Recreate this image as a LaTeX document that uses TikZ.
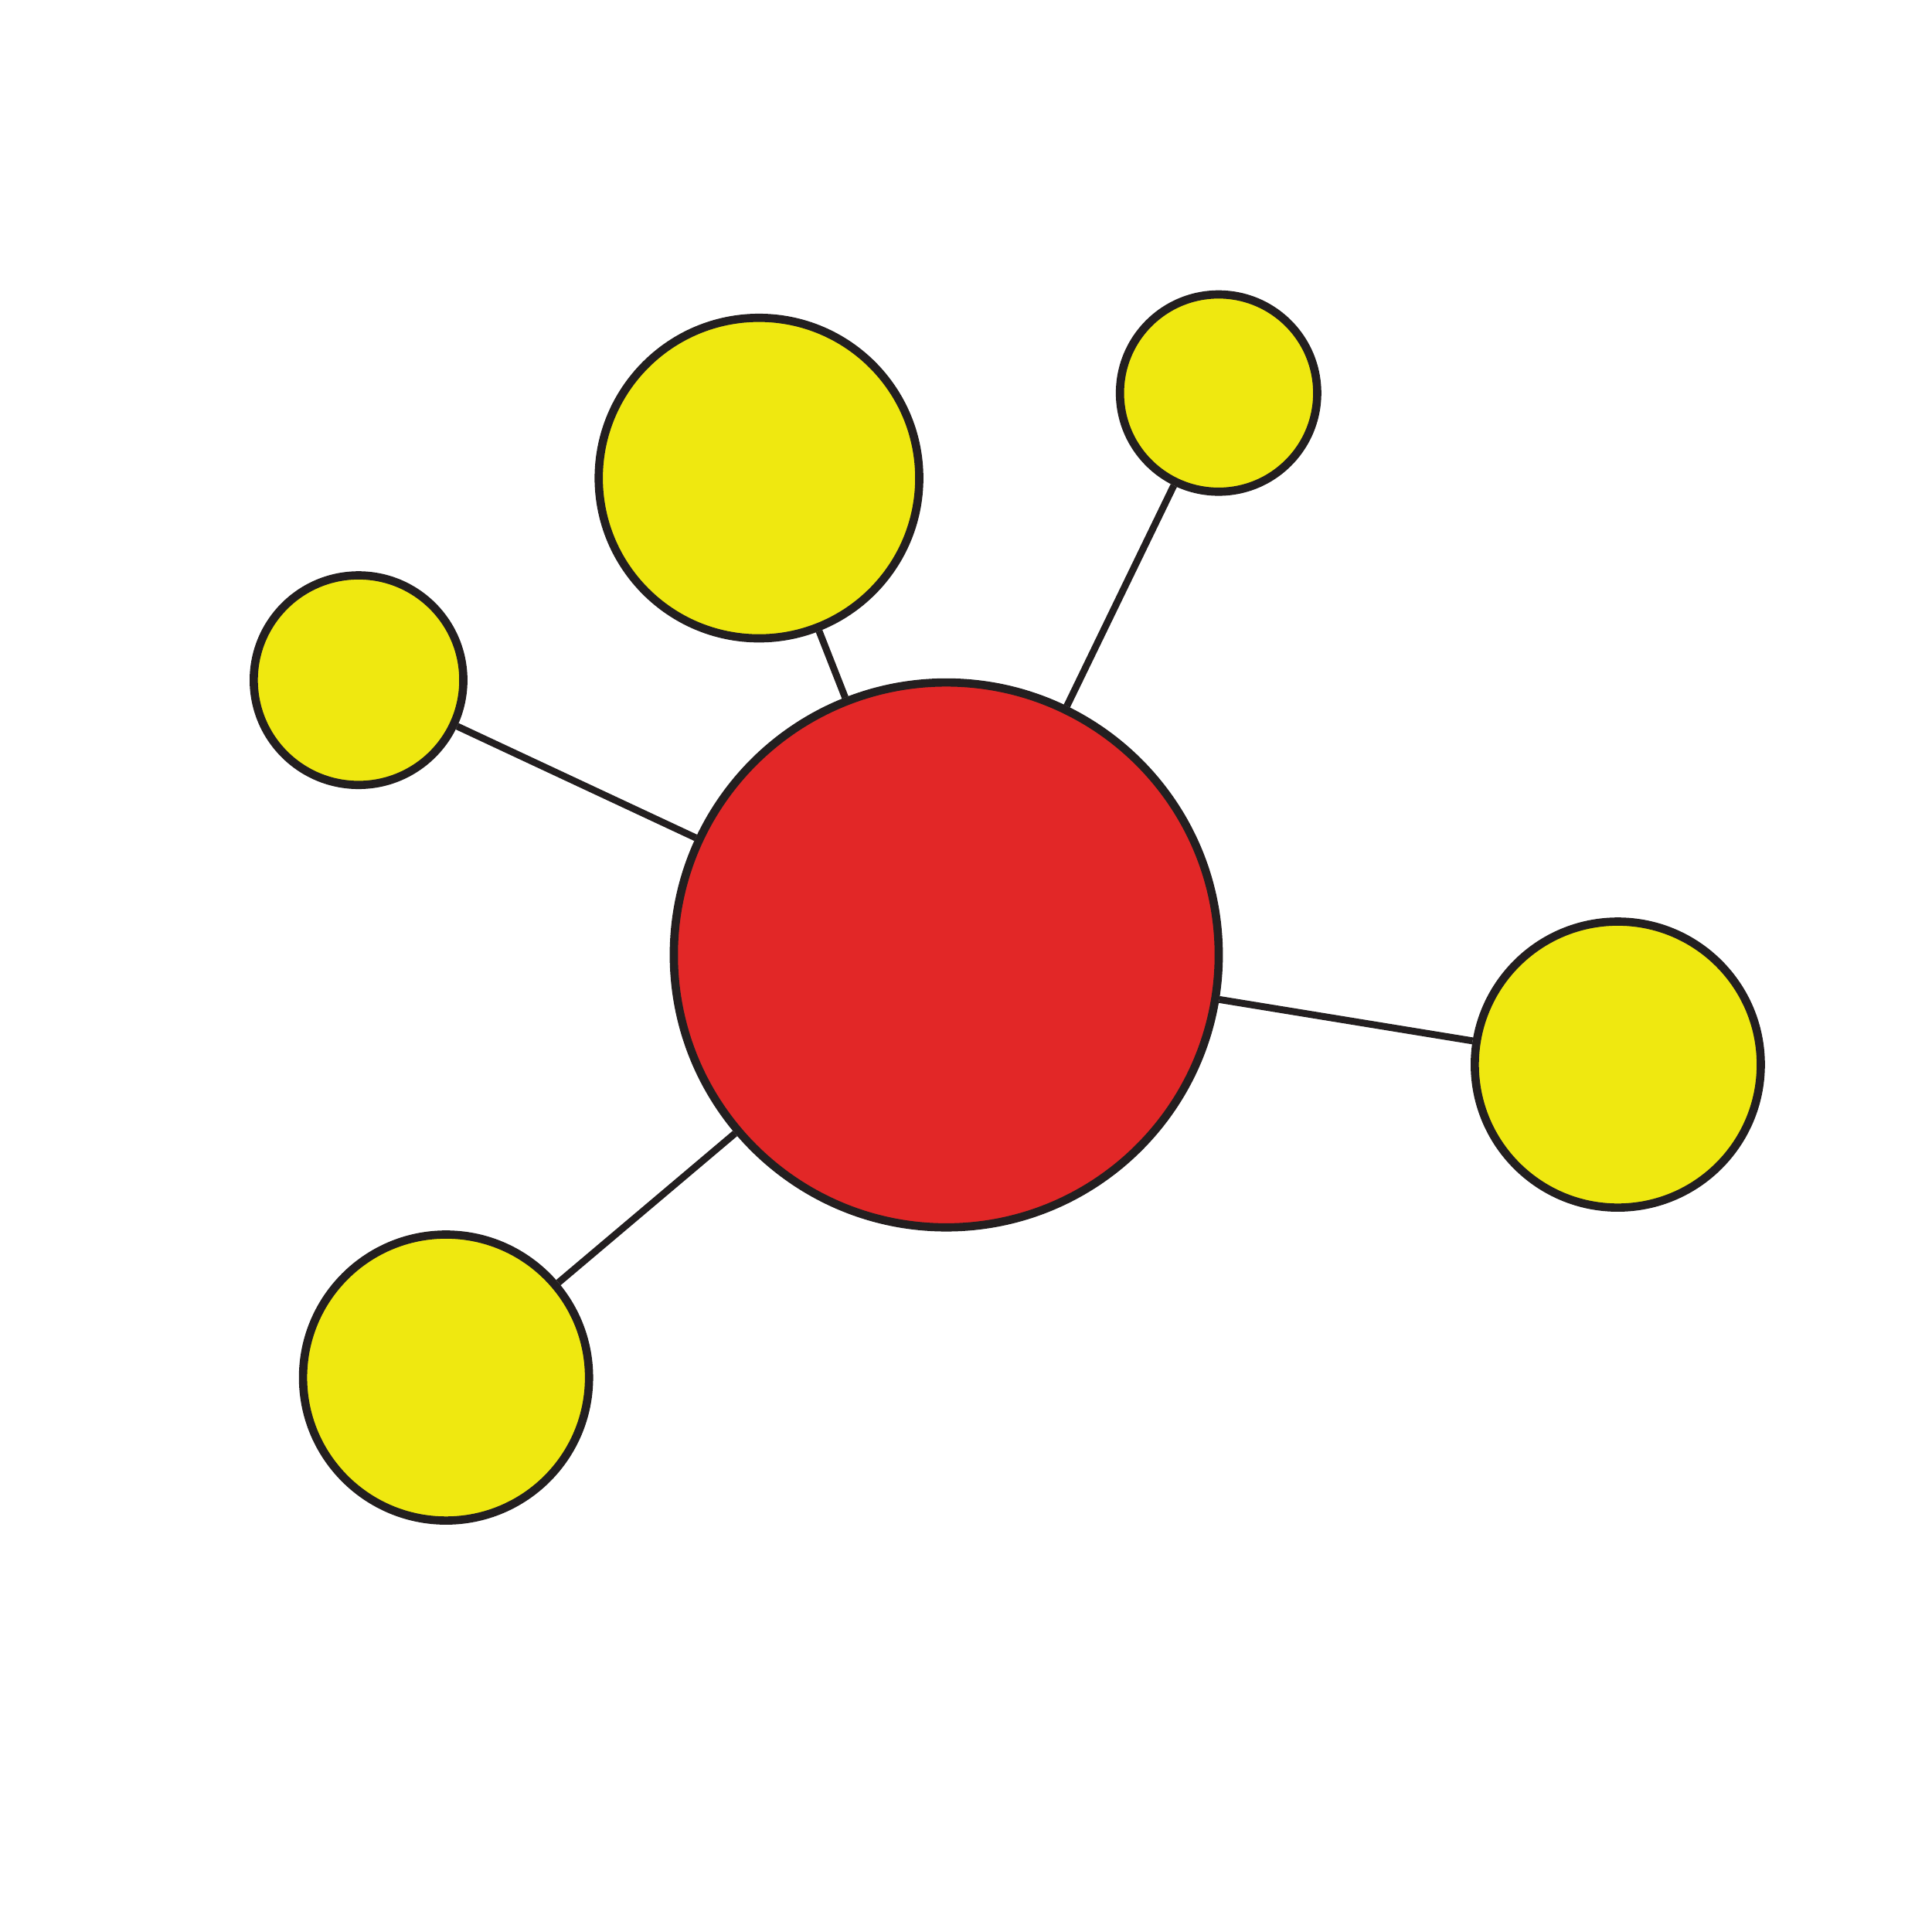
\documentclass[tikz,border=0pt]{standalone}
\usetikzlibrary{backgrounds}
\definecolor{hubred}{HTML}{E22727}
\definecolor{leafyellow}{HTML}{EFE810}
\definecolor{rimgray}{HTML}{231F20}
\tikzset{
  atom/.style={circle, draw=rimgray, line width=1.9pt, inner sep=0pt},
  hub/.style={atom, fill=hubred},
  leaf/.style={atom, fill=leafyellow},
  bond/.style={draw=rimgray, line width=1.6pt}
}
\begin{document}
\begin{tikzpicture}[x=0.01cm, y=-0.01cm]
  \useasboundingbox (0,0) rectangle (1568,1568);
  \node (center) at (768,775) [hub, minimum size=4.42cm] {};
  \node (top) at (616,388) [leaf, minimum size=2.60cm] {};
  \node (topright) at (989,319) [leaf, minimum size=1.60cm] {};
  \node (left) at (291,552) [leaf, minimum size=1.70cm] {};
  \node (right) at (1313,864) [leaf, minimum size=2.32cm] {};
  \node (bottomleft) at (362,1118) [leaf, minimum size=2.32cm] {};
  \begin{scope}[on background layer]
    \draw [bond] (center) -- (top);
    \draw [bond] (center) -- (topright);
    \draw [bond] (center) -- (left);
    \draw [bond] (center) -- (right);
    \draw [bond] (center) -- (bottomleft);
  \end{scope}
\end{tikzpicture}
\end{document}
